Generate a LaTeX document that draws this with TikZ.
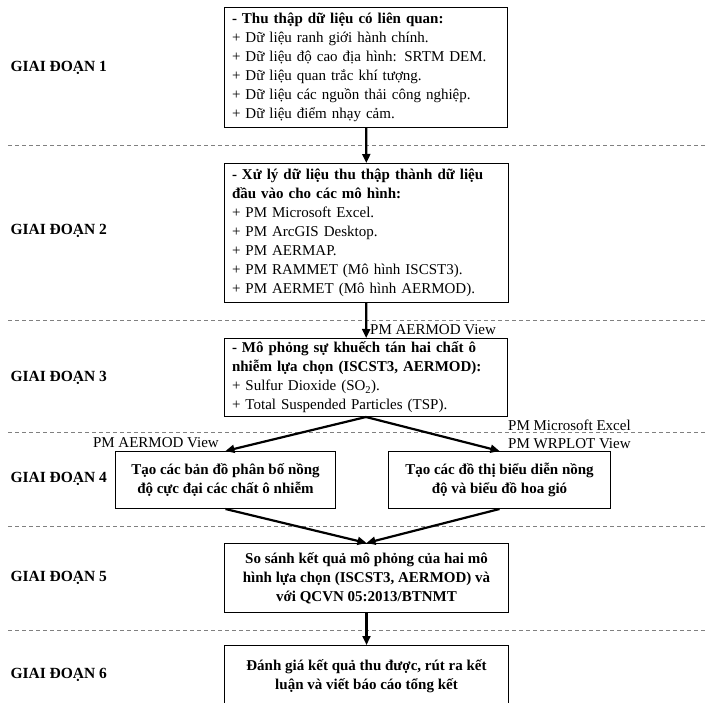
\documentclass[tikz,border=0pt]{standalone}
\usepackage{fontspec}
\setmainfont{Liberation Serif}
\usetikzlibrary{arrows.meta, positioning}

\begin{document}
\begin{tikzpicture}[x=1pt, y=-1pt,
  baseBox/.style={rectangle, draw, line width=1pt, anchor=north west, inner xsep=7pt, inner ysep=2pt, font=\fontsize{15}{19}\selectfont},
  listBox/.style={baseBox, align=left},
  stepBox/.style={baseBox, align=center, font=\fontsize{15}{19}\selectfont\bfseries},
  stageLabel/.style={anchor=west, font=\fontsize{15.5}{17}\selectfont\bfseries},
  toolLabel/.style={inner sep=0pt, font=\fontsize{15}{17}\selectfont},
  flowArrow/.style={-{Triangle[length=9pt,width=8pt]}, line width=2.2pt},
  stageLine/.style={gray, line width=0.9pt, dash pattern=on 4pt off 3pt}
]
\useasboundingbox (0,0) rectangle (705,703);

% separators and stage names
\foreach \y in {145,320,432,526,630}
  \draw[stageLine] (8,\y) -- (705,\y);
\foreach \y [count=\i] in {68,231,378,479,578,675}
  \node[stageLabel] (stage\i) at (7,\y) {GIAI ĐOẠN \i};

% boxes
\node[listBox, minimum width=283pt, minimum height=120pt, text width=268pt] (b1) at (224,7)
  {\textbf{- Thu thập dữ liệu có liên quan:}\\
   + Dữ liệu ranh giới hành chính.\\
   + Dữ liệu độ cao địa hình: SRTM DEM.\\
   + Dữ liệu quan trắc khí tượng.\\
   + Dữ liệu các nguồn thải công nghiệp.\\
   + Dữ liệu điểm nhạy cảm.};
\node[listBox, minimum width=284pt, minimum height=139pt, text width=269pt] (b2) at (224,163)
  {\textbf{- Xử lý dữ liệu thu thập thành dữ liệu}\\
   \textbf{đầu vào cho các mô hình:}\\
   + PM Microsoft Excel.\\
   + PM ArcGIS Desktop.\\
   + PM AERMAP.\\
   + PM RAMMET (Mô hình ISCST3).\\
   + PM AERMET (Mô hình AERMOD).};
\node[listBox, minimum width=283pt, minimum height=78pt, text width=268pt] (b3) at (224,338)
  {\textbf{- Mô phỏng sự khuếch tán hai chất ô}\\
   \textbf{nhiễm lựa chọn (ISCST3, AERMOD):}\\
   + Sulfur Dioxide (SO\textsubscript{2}).\\
   + Total Suspended Particles (TSP).};
\node[stepBox, minimum width=220pt, minimum height=57pt] (b4a) at (115,451)
  {Tạo các bản đồ phân bố nồng\\độ cực đại các chất ô nhiễm};
\node[stepBox, minimum width=222pt, minimum height=57pt] (b4b) at (388,451)
  {Tạo các đồ thị biểu diễn nồng\\độ và biểu đồ hoa gió};
\node[stepBox, minimum width=284pt, minimum height=69pt] (b5) at (224,543)
  {So sánh kết quả mô phỏng của hai mô\\hình lựa chọn (ISCST3, AERMOD) và\\với QCVN 05:2013/BTNMT};
\node[stepBox, minimum width=284pt, minimum height=62pt] (b6) at (224,645)
  {Đánh giá kết quả thu được, rút ra kết\\luận và viết báo cáo tổng kết};

% software labels
\node[toolLabel, anchor=west] (tAermod) at (370,330) {PM AERMOD View};
\node[toolLabel, anchor=east] (tView) at (219,443) {PM AERMOD View};
\node[toolLabel, anchor=west] (tExcel) at (508,425) {PM Microsoft Excel};
\node[toolLabel, anchor=west] (tWrplot) at (508,444) {PM WRPLOT View};

% arrows
\draw[flowArrow] (b1) -- (b2);
\draw[flowArrow] (b2) -- (b3);
\draw[flowArrow] (b3.south) -- (b4a.north);
\draw[flowArrow] (b3.south) -- (b4b.north);
\draw[flowArrow] (b4a.south) -- (b5.north);
\draw[flowArrow] (b4b.south) -- (b5.north);
\draw[flowArrow] (b5) -- (b6);
\end{tikzpicture}
\end{document}
